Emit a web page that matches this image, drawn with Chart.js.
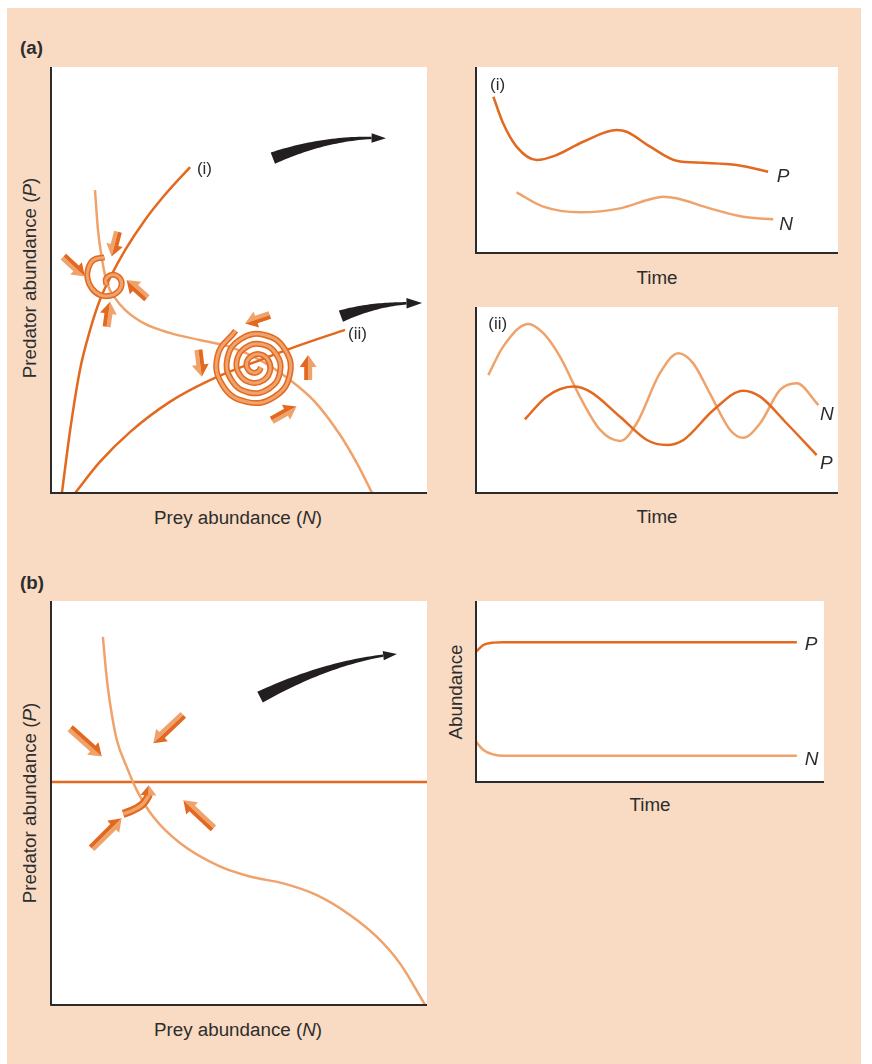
<!DOCTYPE html>
<html>
<head>
<meta charset="utf-8">
<script src="https://cdn.jsdelivr.net/npm/chart.js@4"></script>
<style>
  body { margin: 0; background: #fff; font-family: "Liberation Sans", Arial, sans-serif; color: #2d2d2d; }
  #page { position: absolute; left: 7px; top: 8px; width: 854px; height: 1056px; background: #F9DBC3; }
  .box { position: absolute; }
  .txt { position: absolute; font-size: 18.8px; white-space: nowrap; line-height: 1; }
  .bold { font-weight: bold; }
  .mid { transform: translate(-50%, -50%); }
  .rot { transform: translate(-50%, -50%) rotate(-90deg); }
  .tag { position: absolute; transform: translateY(-50%); font-size: 17px; white-space: nowrap; line-height: 1; color: #2d2d2d; }
  .tag.it { font-style: italic; font-size: 19px; }
</style>
</head>
<body>
<div id="page"></div>

<div class="txt bold" style="left:20px; top:39px;">(a)</div>
<div class="txt bold" style="left:20px; top:574px;">(b)</div>

<div class="txt rot" style="left:30px; top:278px;">Predator abundance (<i>P</i>)</div>
<div class="txt mid" style="left:238px; top:518px;">Prey abundance (<i>N</i>)</div>
<div class="txt mid" style="left:657px; top:278px;">Time</div>
<div class="txt mid" style="left:657px; top:517px;">Time</div>

<div class="txt rot" style="left:30px; top:803px;">Predator abundance (<i>P</i>)</div>
<div class="txt mid" style="left:238px; top:1030px;">Prey abundance (<i>N</i>)</div>
<div class="txt rot" style="left:456px; top:692px;">Abundance</div>
<div class="txt mid" style="left:650px; top:805px;">Time</div>

<div class="box" id="aPhaseBox"><canvas id="aPhase"></canvas></div>
<div class="box" id="aTime1Box"><canvas id="aTime1"></canvas></div>
<div class="box" id="aTime2Box"><canvas id="aTime2"></canvas></div>
<div class="box" id="bPhaseBox"><canvas id="bPhase"></canvas></div>
<div class="box" id="bTimeBox"><canvas id="bTime"></canvas></div>

<script>
//-----------------------------------------
//  DATA  (abundance and time in arbitrary 0-100 units)
//-----------------------------------------

const DARK = '#E2691F';
const LIGHT = '#F0A26B';

// (a) phase plane: isoclines
const aPredIsoI_N = [2.9, 5.1, 7.7, 10.4, 13.0, 15.7, 19.7, 25.0, 30.3, 37.0];
const aPredIsoI_P = [0, 14.8, 28.9, 38.3, 45.3, 50.5, 57.0, 64.1, 70.0, 76.5];
const aPredIsoII_N = [6.4, 13.0, 21.0, 31.6, 42.3, 55.6, 66.2, 78.2];
const aPredIsoII_P = [0, 7.3, 14.3, 21.4, 26.5, 31.2, 34.7, 38.3];
const aPreyIso_N = [11.7, 12.5, 13.6, 14.9, 17.0, 19.7, 25.0, 31.6, 39.6, 47.6, 55.6, 63.6, 70.2, 76.9, 81.6, 85.4];
const aPreyIso_P = [71.1, 61.7, 54.7, 49.3, 45.8, 43.0, 39.7, 37.6, 35.9, 34.3, 31.2, 26.5, 21.4, 13.6, 6.6, 0];

// (a) trajectories
const spiralI_N = [14.2, 11.3, 9.9, 9.7, 10.8, 13.0, 15.7, 17.9, 18.8, 17.9, 16.1, 14.6, 14.8];
const spiralI_P = [55.3, 54.7, 52.7, 50.4, 48.1, 46.5, 46.3, 47.3, 49.2, 50.8, 51.2, 50.2, 48.8];
const spiralII_N = [49.1, 44.3, 45.7, 52.0, 59.3, 63.5, 62.2, 56.8, 50.4, 46.9, 48.0, 52.6, 58.0, 60.9, 59.9,
                    56.1, 51.7, 49.4, 50.3, 53.3, 56.6, 58.3, 57.6, 55.4, 53.1, 52.0, 52.6, 54.0, 55.3, 55.8];
const spiralII_P = [38.1, 32.2, 25.2, 21.4, 22.5, 27.7, 33.7, 37.1, 36.1, 31.6, 26.5, 23.6, 24.5, 28.3, 32.6,
                    34.9, 34.1, 31.0, 27.6, 25.9, 26.5, 28.9, 31.4, 32.6, 32.0, 30.4, 28.8, 28.2, 28.6, 29.5];

// (a) direction arrows [N from, P from, N to, P to]
const aArrows = [
  [17.8, 61.3, 16.1, 55.5], [3.3, 55.5, 9.0, 50.8], [25.5, 45.7, 20.1, 50.0], [14.8, 39.0, 15.7, 44.9],
  [58.2, 41.8, 51.6, 39.8], [39.2, 33.6, 40.1, 27.3], [68.4, 26.5, 68.4, 32.4], [58.7, 17.1, 65.3, 20.3]
];
// black swoops [start, middle, tip]
const aSwoops = [[59.0, 78.6, 74.2, 82.4, 89.1, 83.3], [77.1, 41.5, 87.5, 43.9, 98.7, 44.6]];
const aLabels = [{ x: 38.8, y: 76.3, text: '(i)' }, { x: 79.0, y: 37.6, text: '(ii)' }];

// (a)(i) time series
const t1P_T = [4.8, 7.5, 11.2, 16.8, 22.3, 29.6, 38.9, 41.6, 48.1, 55.4, 62.8, 72.0, 80.7];
const t1P_V = [84.0, 69.7, 57.2, 50.0, 52.7, 59.8, 66.1, 65.2, 57.2, 49.6, 48.5, 47.3, 43.7];
const t1N_T = [11.2, 18.6, 28.7, 39.8, 48.1, 51.7, 55.4, 64.6, 73.8, 82.1];
const t1N_V = [32.6, 24.9, 21.9, 24.0, 28.9, 30.3, 29.4, 24.0, 19.5, 18.1];
const t1Labels = [{ x: 3.9, y: 90.9, text: '(i)' }, { x: 83.1, y: 41.9, text: 'P', italic: true }, { x: 83.8, y: 16.0, text: 'N', italic: true }];

// (a)(ii) time series
const t2N_T = [3.4, 7.5, 14.4, 18.6, 23.2, 28.7, 34.3, 39.8, 44.4, 50.8, 55.9, 60.0, 64.6, 70.2, 73.8, 78.5, 84.0, 88.6, 94.6];
const t2N_V = [63.4, 78.7, 90.9, 85.9, 73.3, 51.8, 33.9, 28.0, 37.5, 64.4, 75.1, 69.7, 53.6, 33.9, 29.7, 37.5, 55.4, 59.0, 47.3];
const t2P_T = [13.5, 19.5, 26.9, 31.5, 39.8, 47.2, 52.7, 57.3, 65.6, 73.8, 78.5, 85.8, 94.1];
const t2P_V = [39.6, 51.8, 57.2, 54.5, 41.0, 28.5, 25.8, 28.5, 44.6, 55.0, 51.8, 37.5, 20.4];
const t2Labels = [{ x: 3.4, y: 91.2, text: '(ii)' }, { x: 95.0, y: 42.8, text: 'N', italic: true }, { x: 95.0, y: 16.8, text: 'P', italic: true }];

// (b) phase plane
const bPredIso_N = [0, 100];
const bPredIso_P = [55.2, 55.2];
const bPreyIso_N = [13.8, 14.6, 15.2, 16.2, 17.5, 20.1, 22.8, 27.2, 34.3, 44.9, 52.9, 61.8, 70.7, 79.5, 86.6, 92.8, 99.5];
const bPreyIso_P = [91.1, 82.9, 78.0, 71.8, 65.6, 59.0, 53.2, 46.6, 40.1, 34.3, 31.8, 30.1, 27.2, 22.3, 16.9, 10.3, 0];
const bArrows = [[5.1, 68.5, 13.5, 61.5], [35.2, 71.8, 27.2, 64.8], [43.2, 43.7, 35.2, 50.7], [10.8, 38.8, 18.8, 46.2]];
const bHook = [[19.2, 47.3], [23.7, 48.7], [25.9, 51.6], [26.0, 54.4]];
const bSwoops = [[55.6, 76.2, 74.2, 83.4, 92.0, 86.9]];

// (b) time series
const btP_T = [0, 2.1, 5, 8, 92.2];
const btP_V = [72.0, 75.7, 77.0, 77.2, 77.2];
const btN_T = [0, 2.1, 5, 8, 92.2];
const btN_V = [22.3, 17.7, 15.2, 14.5, 14.5];
const btLabels = [{ x: 94.5, y: 77.0, text: 'P', italic: true }, { x: 94.5, y: 13.1, text: 'N', italic: true }];

//-----------------------------------------
//  DRAWING HELPERS
//-----------------------------------------

function poly(ctx, color, p) {
  ctx.fillStyle = color;
  ctx.beginPath();
  ctx.moveTo(p[0][0], p[0][1]);
  for (let i = 1; i < p.length; i++) ctx.lineTo(p[i][0], p[i][1]);
  ctx.closePath();
  ctx.fill();
}

// two-tone block arrow
function blockArrow(ctx, x1, y1, x2, y2) {
  const dx = x2 - x1, dy = y2 - y1, len = Math.hypot(dx, dy);
  const ux = dx / len, uy = dy / len, nx = -uy, ny = ux;
  const hl = 12, hw = 8.5, sw = 4;
  const bx = x2 - ux * hl, by = y2 - uy * hl;
  poly(ctx, LIGHT, [[x1, y1], [x1 + nx * sw, y1 + ny * sw], [bx + nx * sw, by + ny * sw], [bx + nx * hw, by + ny * hw], [x2, y2], [bx, by]]);
  poly(ctx, DARK, [[x1, y1], [x1 - nx * sw, y1 - ny * sw], [bx - nx * sw, by - ny * sw], [bx - nx * hw, by - ny * hw], [x2, y2], [bx, by]]);
}

function strokeSmooth(ctx, p, color, width) {
  ctx.strokeStyle = color;
  ctx.lineWidth = width;
  ctx.beginPath();
  ctx.moveTo(p[0][0], p[0][1]);
  for (let i = 1; i < p.length - 1; i++) {
    ctx.quadraticCurveTo(p[i][0], p[i][1], (p[i][0] + p[i + 1][0]) / 2, (p[i][1] + p[i + 1][1]) / 2);
  }
  ctx.lineTo(p[p.length - 1][0], p[p.length - 1][1]);
  ctx.stroke();
}

// curved band arrow
function hookArrow(ctx, pts) {
  const n = pts.length, tip = pts[n - 1], prev = pts[n - 2];
  const dx = tip[0] - prev[0], dy = tip[1] - prev[1], d = Math.hypot(dx, dy);
  const ux = dx / d, uy = dy / d, nx = -uy, ny = ux;
  const hl = 10, hw = 8;
  const base = [tip[0] - ux * hl, tip[1] - uy * hl];
  const path = pts.slice(0, n - 1).concat([base]);
  ctx.lineCap = 'butt';
  ctx.lineJoin = 'round';
  strokeSmooth(ctx, path, DARK, 8);
  strokeSmooth(ctx, path, LIGHT, 3.5);
  poly(ctx, LIGHT, [[base[0], base[1]], [base[0] + nx * hw, base[1] + ny * hw], tip]);
  poly(ctx, DARK, [[base[0], base[1]], [base[0] - nx * hw, base[1] - ny * hw], tip]);
}

// tapering black arrow along a quadratic through start, middle, tip
function swoop(ctx, p0, pm, p1) {
  const c = [2 * pm[0] - (p0[0] + p1[0]) / 2, 2 * pm[1] - (p0[1] + p1[1]) / 2];
  const B = t => [(1 - t) * (1 - t) * p0[0] + 2 * (1 - t) * t * c[0] + t * t * p1[0],
                  (1 - t) * (1 - t) * p0[1] + 2 * (1 - t) * t * c[1] + t * t * p1[1]];
  const D = t => [2 * (1 - t) * (c[0] - p0[0]) + 2 * t * (p1[0] - c[0]),
                  2 * (1 - t) * (c[1] - p0[1]) + 2 * t * (p1[1] - c[1])];
  const hl = 15, hw = 5, w0 = 12, w1 = 2.4;
  const approx = Math.hypot(pm[0] - p0[0], pm[1] - p0[1]) + Math.hypot(p1[0] - pm[0], p1[1] - pm[1]);
  const tEnd = 1 - hl / approx;
  const L = [], R = [];
  for (let i = 0; i <= 30; i++) {
    const t = tEnd * i / 30;
    const b = B(t), d = D(t), dl = Math.hypot(d[0], d[1]);
    const w = (w1 + (w0 - w1) * Math.pow(1 - t / tEnd, 1.2)) / 2;
    L.push([b[0] - d[1] / dl * w, b[1] + d[0] / dl * w]);
    R.push([b[0] + d[1] / dl * w, b[1] - d[0] / dl * w]);
  }
  poly(ctx, '#231f20', L.concat(R.reverse()));
  const e = B(tEnd), ux = (p1[0] - e[0]) / hl, uy = (p1[1] - e[1]) / hl;
  poly(ctx, '#231f20', [[e[0] - uy * hw, e[1] + ux * hw], p1, [e[0] + uy * hw, e[1] - ux * hw]]);
}

//-----------------------------------------
//  PLUGIN: white plot area, axes, arrows, labels
//-----------------------------------------

const sketchPlugin = {
  id: 'sketch',
  beforeDraw(chart) {
    const { ctx, chartArea: a } = chart;
    ctx.save();
    ctx.fillStyle = '#fff';
    ctx.fillRect(a.left, a.top, a.right - a.left, a.bottom - a.top);
    ctx.restore();
  },
  afterDatasetsDraw(chart, args, opts) {
    const { ctx, chartArea: a, scales } = chart;
    const px = p => [scales.x.getPixelForValue(p[0]), scales.y.getPixelForValue(p[1])];
    ctx.save();
    (opts.swoops || []).forEach(s => swoop(ctx, px([s[0], s[1]]), px([s[2], s[3]]), px([s[4], s[5]])));
    (opts.arrows || []).forEach(r => {
      const f = px([r[0], r[1]]), t = px([r[2], r[3]]);
      blockArrow(ctx, f[0], f[1], t[0], t[1]);
    });
    (opts.hooks || []).forEach(h => hookArrow(ctx, h.map(px)));
    ctx.strokeStyle = '#2b2b2b';
    ctx.lineWidth = 2;
    ctx.beginPath();
    ctx.moveTo(a.left, a.top);
    ctx.lineTo(a.left, a.bottom);
    ctx.lineTo(a.right, a.bottom);
    ctx.stroke();
    ctx.restore();
  },
  afterRender(chart, args, opts) {
    const box = chart.canvas.parentNode;
    (opts.labels || []).forEach((l, i) => {
      let el = box.querySelector('[data-k="' + i + '"]');
      if (!el) {
        el = document.createElement('span');
        el.dataset.k = i;
        el.className = 'tag' + (l.italic ? ' it' : '');
        el.textContent = l.text;
        box.appendChild(el);
      }
      el.style.left = chart.scales.x.getPixelForValue(l.x) + 'px';
      el.style.top = chart.scales.y.getPixelForValue(l.y) + 'px';
    });
  }
};

//-----------------------------------------
//  CHARTS
//-----------------------------------------

const PAD = 6;
const pts = (xs, ys) => xs.map((v, i) => ({ x: v, y: ys[i] }));
const curve = (xs, ys, color, width, smooth, order) => ({
  data: pts(xs, ys),
  borderColor: color,
  borderWidth: width,
  cubicInterpolationMode: smooth ? 'monotone' : 'default',
  tension: 0.45,
  order: order,
  pointRadius: 0,
  fill: false
});

function makeChart(id, left, top, w, h, datasets, extras) {
  const box = document.getElementById(id + 'Box');
  box.style.left = (left - PAD) + 'px';
  box.style.top = (top - PAD) + 'px';
  box.style.width = (w + 2 * PAD) + 'px';
  box.style.height = (h + 2 * PAD) + 'px';
  return new Chart(document.getElementById(id), {
    type: 'line',
    data: { datasets: datasets },
    options: {
      responsive: true,
      maintainAspectRatio: false,
      animation: false,
      layout: { padding: PAD },
      elements: { point: { radius: 0 } },
      scales: {
        x: { type: 'linear', min: 0, max: 100, display: false },
        y: { type: 'linear', min: 0, max: 100, display: false }
      },
      plugins: { legend: { display: false }, tooltip: { enabled: false }, sketch: extras }
    },
    plugins: [sketchPlugin]
  });
}

makeChart('aPhase', 51, 67, 376, 426, [
  curve(spiralI_N, spiralI_P, LIGHT, 3, false, 0),
  curve(spiralI_N, spiralI_P, DARK, 6, false, 1),
  curve(spiralII_N, spiralII_P, LIGHT, 3, false, 0),
  curve(spiralII_N, spiralII_P, DARK, 6, false, 1),
  curve(aPredIsoI_N, aPredIsoI_P, DARK, 2.5, true, 2),
  curve(aPredIsoII_N, aPredIsoII_P, DARK, 2.5, true, 2),
  curve(aPreyIso_N, aPreyIso_P, LIGHT, 2.5, true, 2)
], { arrows: aArrows, swoops: aSwoops, labels: aLabels });

makeChart('aTime1', 476, 67, 362, 186, [
  curve(t1P_T, t1P_V, DARK, 2.5, true, 0),
  curve(t1N_T, t1N_V, LIGHT, 2.5, true, 1)
], { labels: t1Labels });

makeChart('aTime2', 476, 307, 362, 186, [
  curve(t2P_T, t2P_V, DARK, 2.5, true, 0),
  curve(t2N_T, t2N_V, LIGHT, 2.5, true, 1)
], { labels: t2Labels });

makeChart('bPhase', 51, 601, 376, 404, [
  curve(bPredIso_N, bPredIso_P, DARK, 2.5, true, 1),
  curve(bPreyIso_N, bPreyIso_P, LIGHT, 2.5, true, 0)
], { arrows: bArrows, hooks: [bHook], swoops: bSwoops });

makeChart('bTime', 476, 601, 348, 181, [
  curve(btP_T, btP_V, DARK, 2.5, true, 0),
  curve(btN_T, btN_V, LIGHT, 2.5, true, 1)
], { labels: btLabels });
</script>
</body>
</html>
